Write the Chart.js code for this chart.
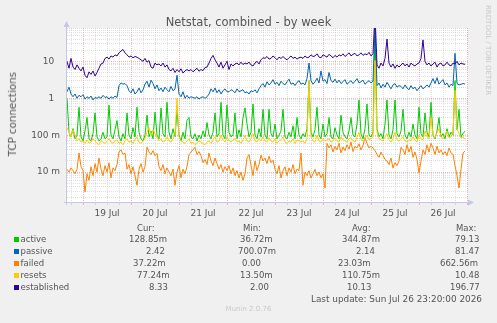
<!DOCTYPE html>
<html>
<head>
<meta charset="utf-8">
<script src="https://cdn.jsdelivr.net/npm/chart.js@4"></script>
<style>
body { margin: 0; background: #f0f0f0; }
#wrap { position: relative; width: 497px; height: 323px; font-family: 'DejaVu Sans', sans-serif; color: #555; overflow: hidden; }
#wrap div { position: absolute; white-space: nowrap; }
canvas { position: absolute; left: 0; top: 0; }
.lg { font-size: 8.5px; line-height: 12px; }
.sq { width: 5px; height: 5px; }
</style>
</head>
<body>
<div id="wrap">
  <canvas id="chart" width="497" height="323"></canvas>
  <div style="left:0;top:14.5px;width:497px;text-align:center;font-size:11.5px;line-height:14px;">Netstat, combined - by week</div>
  <div style="left:5.5px;top:72px;font-size:10.3px;line-height:12px;writing-mode:vertical-rl;transform:rotate(180deg);">TCP connections</div>
  <div style="left:483px;top:5px;font-size:7px;line-height:9px;color:#c8c8c8;writing-mode:vertical-rl;">RRDTOOL / TOBI OETIKER</div>
</div>
<script>
// munin "netstat" plugin, week view: one sample per hour, starting 18 Jul 16:00
const seriesNames = ['active', 'passive', 'failed', 'resets', 'established'];
const seriesColors = ['#00CC00', '#0066B3', '#FF8000', '#FFCC00', '#330099'];
const startHour = 16;   // hours after 18 Jul 00:00
const stepHours = 1;

const active = [
  1.0, 0.12, 0.09, 0.15, 0.08, 0.1, 0.57, 0.09, 0.07, 0.13,
  0.3, 0.08, 0.07, 0.11, 0.4, 0.09, 0.07, 0.08, 0.12, 0.08,
  0.09, 0.65, 0.1, 0.08, 0.14, 0.25, 0.09, 0.07, 0.11, 0.08,
  0.4, 0.1, 0.08, 0.16, 0.09, 0.57, 0.12, 0.08, 0.07, 0.1,
  0.35, 0.09, 0.13, 0.08, 0.42, 0.1, 0.08, 0.54, 0.11, 0.09,
  0.78, 0.12, 0.08, 0.15, 0.09, 0.47, 0.1, 0.07, 0.12, 0.08,
  0.25, 0.3, 0.09, 0.08, 0.11, 0.07, 0.1, 0.08, 0.13, 0.09,
  0.22, 0.1, 0.08, 0.12, 0.4, 0.09, 0.11, 0.78, 0.1, 0.08,
  0.65, 0.12, 0.09, 0.1, 0.4, 0.08, 0.14, 0.09, 0.3, 0.55,
  0.2, 0.09, 0.12, 0.7, 0.1, 0.08, 0.15, 0.09, 0.5, 0.1,
  0.08, 0.5, 0.11, 0.09, 0.2, 0.08, 0.1, 0.13, 0.5, 0.09,
  0.08, 0.12, 0.09, 0.18, 0.08, 0.3, 0.1, 0.08, 0.11, 0.09,
  0.15, 3.0, 0.12, 0.09, 0.14, 0.57, 0.1, 0.08, 0.2, 0.09,
  0.11, 0.3, 0.09, 0.08, 0.16, 0.1, 0.08, 0.35, 0.12, 0.09,
  0.08, 0.13, 0.3, 0.1, 0.09, 0.2, 0.9, 0.11, 0.08, 0.15,
  0.7, 0.1, 0.09, 0.12, 79.13, 0.15, 0.09, 0.11, 0.08, 0.2,
  0.9, 0.1, 0.08, 0.14, 0.9, 0.11, 0.09, 0.13, 0.5, 0.1,
  0.08, 0.12, 0.09, 0.2, 0.1, 0.08, 0.57, 0.11, 0.09, 0.4,
  0.12, 0.09, 0.78, 0.1, 0.08, 0.13, 0.3, 0.09, 0.11, 0.08,
  0.15, 0.09, 0.12, 0.1, 3.0, 0.14, 0.5, 0.09, 0.11, 0.129
];

const passive = [
  1.5, 2.0, 1.3,
  1.1, 1.3, 1.0, 1.2, 1.1, 1.25,
  0.95, 1.1, 1.0, 1.15, 0.9, 1.05, 1.0,
  1.1, 1.0, 1.2, 1.05, 1.1, 0.95, 1.1, 1.0, 1.15, 1.05,
  2.2, 2.6, 2.4, 2.5, 2.2,
  1.6, 1.4, 1.8, 1.3, 1.5, 1.9, 1.4, 1.7,
  2.4, 2.9, 2.0, 3.1, 2.5, 1.8, 2.3,
  1.6, 1.9, 1.5, 2.0, 1.7, 1.5, 2.1, 1.6, 1.8,
  4.2,
  1.3, 1.1, 1.5, 1.0, 1.2,
  1.0, 1.1, 1.05, 1.0, 1.1, 0.95, 1.05, 1.1, 1.0, 1.1,
  1.3, 1.8, 1.5, 1.9, 1.4, 1.7, 1.3, 1.6, 1.8, 1.5,
  1.5, 1.7, 1.6, 1.4, 1.8, 1.5, 1.6, 1.7, 1.4, 1.5, 1.3, 1.6, 1.5, 1.7, 1.4, 1.8,
  2.2, 2.5, 2.0, 2.8, 2.3, 2.6, 3.2, 2.4, 2.7, 2.2, 2.9, 2.5, 2.3, 2.8, 3.3, 2.4, 2.6, 2.2, 2.7, 3.0, 2.4, 2.6, 2.3, 3.4,
  9.0,
  3.0, 2.4, 2.8, 3.5, 2.6, 5.5, 2.9, 3.2, 2.5, 5.0, 3.0, 2.7, 3.3, 2.6, 3.1,
  2.5, 2.8, 3.2, 2.4, 2.7, 3.0, 2.5, 2.9, 3.4, 2.6, 2.8, 3.1, 2.4, 2.7, 3.0, 2.6, 2.9,
  81.47,
  2.2, 2.6, 1.9, 2.4, 2.0, 2.7, 2.2, 1.8, 2.3, 2.5, 2.0, 2.2,
  2.1, 1.8, 2.3, 1.9, 1.7, 2.2, 1.8, 2.0, 1.6, 1.9,
  2.2, 1.8, 2.0,
  2.3, 2.0, 2.6, 3.4, 2.5, 3.6, 2.4, 2.8, 3.2, 2.3, 2.6, 2.0, 2.4, 2.2,
  16.5,
  2.5, 2.3, 2.4, 2.5, 2.42
];

const failed = [
  0.012, 0.010, 0.013, 0.011, 0.009, 0.012, 0.033, 0.014, 0.011,
  0.0029, 0.009, 0.006, 0.014, 0.008, 0.017, 0.010,
  0.024, 0.012, 0.008, 0.015, 0.010, 0.018, 0.007, 0.013, 0.011, 0.016,
  0.035, 0.04, 0.03, 0.033,
  0.012, 0.016, 0.009, 0.014, 0.008, 0.0044, 0.012, 0.017, 0.010, 0.014, 0.047,
  0.035, 0.03, 0.038, 0.028, 0.032,
  0.014, 0.011, 0.016, 0.009, 0.013, 0.010,
  0.008, 0.012, 0.0044, 0.010, 0.015, 0.007, 0.012, 0.009, 0.014,
  0.03, 0.035, 0.04, 0.047, 0.03, 0.036, 0.028,
  0.018, 0.022, 0.016, 0.033, 0.020, 0.015, 0.024, 0.017,
  0.012, 0.016, 0.010, 0.014, 0.011, 0.015, 0.009, 0.013,
  0.008, 0.011, 0.007, 0.010, 0.006, 0.009, 0.024,
  0.03, 0.015, 0.008, 0.02, 0.011, 0.016,
  0.029, 0.02, 0.024, 0.017, 0.027, 0.018, 0.021,
  0.012, 0.009, 0.015, 0.0069, 0.011, 0.014, 0.008, 0.013, 0.010, 0.016, 0.009, 0.012, 0.011,
  0.033, 0.0044,
  0.010, 0.008, 0.011, 0.0069, 0.009, 0.012, 0.008, 0.010, 0.007, 0.009,
  0.0037,
  0.06,
  0.045, 0.055, 0.035, 0.05, 0.04, 0.06, 0.033, 0.048, 0.038, 0.055,
  0.042, 0.065, 0.036, 0.05, 0.045, 0.058, 0.04, 0.052, 0.088, 0.06, 0.045, 0.05,
  0.045, 0.038, 0.03, 0.025, 0.035, 0.028, 0.022,
  0.02, 0.016, 0.024, 0.0128, 0.018, 0.015, 0.02,
  0.047, 0.04, 0.03, 0.055, 0.035, 0.05, 0.025,
  0.035, 0.022, 0.0094, 0.02,
  0.04, 0.03, 0.055, 0.035, 0.06, 0.045, 0.03, 0.05, 0.033,
  0.04, 0.03, 0.036, 0.028, 0.045, 0.033,
  0.03, 0.015, 0.008, 0.0037, 0.012, 0.033, 0.0372
];

const resets = [
  0.16, 0.12, 0.09, 0.14, 0.1, 0.07, 0.08, 0.065, 0.07, 0.06,
  0.075, 0.06, 0.065, 0.08, 0.07, 0.06, 0.055, 0.07, 0.065, 0.06,
  0.07, 0.08, 0.065, 0.06, 0.07, 0.075, 0.06, 0.065, 0.055, 0.07,
  0.08, 0.065, 0.07, 0.06, 0.075, 0.09, 0.065, 0.06, 0.07, 0.08,
  0.12, 0.16, 0.1, 0.14, 0.11, 0.09, 0.07, 0.08, 0.065, 0.07,
  0.09, 0.07, 0.065, 0.08, 0.1, 1.0, 0.09, 0.07, 0.065, 0.06,
  0.07, 0.08, 0.06, 0.065, 0.055, 0.06, 0.07, 0.065, 0.06, 0.055,
  0.065, 0.07, 0.06, 0.075, 0.09, 0.065, 0.07, 0.1, 0.075, 0.065,
  0.09, 0.07, 0.065, 0.075, 0.08, 0.065, 0.07, 0.06, 0.075, 0.1,
  0.07, 0.065, 0.08, 0.11, 0.07, 0.065, 0.08, 0.07, 0.09, 0.07,
  0.065, 0.085, 0.07, 0.065, 0.08, 0.06, 0.07, 0.075, 0.09, 0.065,
  0.06, 0.07, 0.065, 0.08, 0.06, 0.075, 0.07, 0.065, 0.07, 0.06,
  0.08, 3.0, 0.09, 0.07, 0.065, 0.1, 0.07, 0.065, 0.08, 0.07,
  0.075, 0.08, 0.065, 0.07, 0.085, 0.07, 0.065, 0.09, 0.075, 0.07,
  0.065, 0.08, 0.085, 0.07, 0.065, 0.09, 0.12, 0.075, 0.07, 0.08,
  0.1, 0.075, 0.08, 0.09, 10.48, 0.12, 0.08, 0.075, 0.07, 0.09,
  0.11, 0.075, 0.065, 0.08, 0.12, 0.075, 0.07, 0.08, 0.09, 0.07,
  0.065, 0.075, 0.07, 0.09, 0.075, 0.065, 0.1, 0.08, 0.075, 0.13,
  0.09, 0.08, 0.3, 0.1, 0.085, 0.12, 0.15, 0.09, 0.08, 0.1,
  0.13, 0.085, 0.09, 0.12, 1.64, 0.15, 0.11, 0.085, 0.09, 0.0772
];

const established = [
  10, 6.5, 12,
  7, 6, 8, 6.5, 5.5, 7,
  4.2, 3.6, 5.2, 4.4, 5.5, 4.0, 5.0,
  6.5, 8.5, 9,
  12, 13, 11.5, 14, 13, 15, 14,
  17, 19, 21, 17,
  15, 13, 14, 12.5, 13.5, 13, 12,
  11, 10, 12, 9.5, 10.5,
  7, 6.5, 9, 8,
  8.5, 7.5, 9, 7, 8,
  6, 5.5, 6.5, 5, 6, 5.2, 6.3, 4.8, 5.5, 6,
  5.5, 6, 5.2, 5.8, 6.5, 5.4, 6, 5.6, 6.8, 7,
  9, 12, 14.5, 11, 9,
  7, 9.5, 6.5, 8, 10, 6, 8.5, 7.5,
  8.5, 9, 8, 9.5, 8.2, 9, 8.5, 9.5,
  8, 7.5, 9, 10, 8.5,
  11, 12.5, 12, 13.5, 11.5, 12, 14, 12.5, 11, 13, 12, 13.5, 12, 11, 12.5, 14, 12, 13, 11.5, 12.5, 13, 12, 14, 12.5,
  13, 15, 13.5, 14, 16, 13, 12.5, 15, 14, 13, 15.5, 14, 12.5, 14.5, 13, 15,
  14, 16, 13.5, 15, 17, 14, 15.5, 16.5, 14, 15, 17, 14.5, 16, 15, 17.5, 14, 16,
  196.77,
  8, 6.5, 9, 7.5, 12, 40, 9, 7, 8.5, 6.5, 8, 7,
  8, 9, 7.5, 8.5, 7, 9, 8, 7.5, 8.5, 9,
  12, 38, 10,
  8, 9, 7.5, 8.5, 9.5, 7, 8.5, 9, 7.5, 8, 9.5, 8, 7.5, 9, 8.5, 10, 8, 9, 8.5, 8.33
];

const dayLabels = ['19 Jul', '20 Jul', '21 Jul', '22 Jul', '23 Jul', '24 Jul', '25 Jul', '26 Jul'];
const yTickValues = [0.01, 0.1, 1, 10];
const yTickLabels = ['10 m', '100 m', '1  ', '10  '];

// legend table (Cur / Min / Avg / Max)
const curText = ['128.85m', '2.42', '37.22m', '77.24m', '8.33'];
const minText = ['36.72m', '700.07m', '0.00', '13.50m', '2.00'];
const avgText = ['344.87m', '2.14', '23.03m', '110.75m', '10.13'];
const maxText = ['79.13', '81.47', '662.56m', '10.48', '196.77'];
const lastUpdate = 'Last update: Sun Jul 26 23:20:00 2026';
const version = 'Munin 2.0.76';

const allSeries = [active, passive, failed, resets, established];

const majorGrid = 'rgba(230, 120, 120, 0.55)';
const minorGrid = 'rgba(175, 175, 175, 0.4)';
const axisColor = '#c4c8e6';

function toPoints(arr) {
  return arr.map((v, i) => ({ x: startHour + i * stepHours, y: v }));
}

function isDecade(v) {
  const l = Math.log10(v);
  return Math.abs(l - Math.round(l)) < 1e-9;
}

const plotBg = {
  id: 'plotBg',
  beforeDraw(chart) {
    const { ctx, chartArea: a } = chart;
    ctx.save();
    ctx.fillStyle = '#ffffff';
    ctx.fillRect(a.left, a.top, a.right - a.left, a.bottom - a.top);
    ctx.restore();
  }
};

// rrdtool style axes with arrow heads
const arrowAxes = {
  id: 'arrowAxes',
  afterDraw(chart) {
    const { ctx, chartArea: a } = chart;
    const x0 = a.left - 0.5, y0 = a.bottom + 0.5;
    ctx.save();
    ctx.strokeStyle = axisColor;
    ctx.fillStyle = axisColor;
    ctx.lineWidth = 1;
    ctx.beginPath();
    ctx.moveTo(x0, a.bottom + 3);
    ctx.lineTo(x0, a.top - 2);
    ctx.moveTo(a.left - 3, y0);
    ctx.lineTo(a.right + 1, y0);
    ctx.stroke();
    ctx.beginPath();
    ctx.moveTo(x0, a.top - 7);
    ctx.lineTo(x0 - 3, a.top - 1);
    ctx.lineTo(x0 + 3, a.top - 1);
    ctx.closePath();
    ctx.fill();
    ctx.beginPath();
    ctx.moveTo(a.right + 6, y0);
    ctx.lineTo(a.right, y0 - 3);
    ctx.lineTo(a.right, y0 + 3);
    ctx.closePath();
    ctx.fill();
    ctx.restore();
  }
};

const ctx = document.getElementById('chart').getContext('2d');
const myChart = new Chart(ctx, {
  type: 'line',
  data: {
    datasets: seriesNames.map((name, k) => ({
      label: name,
      data: toPoints(allSeries[k]),
      borderColor: seriesColors[k],
      backgroundColor: seriesColors[k],
      borderWidth: 1,
      pointRadius: 0,
      tension: 0,
      fill: false,
      order: seriesNames.length - k
    }))
  },
  options: {
    responsive: false,
    animation: false,
    layout: { padding: { left: 0, top: 28, right: 29, bottom: 101 } },
    plugins: {
      legend: { display: false },
      title: { display: false },
      tooltip: { enabled: false }
    },
    scales: {
      x: {
        type: 'linear',
        min: 16,
        max: 216.5,
        afterBuildTicks: scale => {
          const t = [];
          for (let h = 18; h <= 216; h += 6) t.push({ value: h });
          scale.ticks = t;
        },
        afterFit: scale => { scale.height = 20; },
        ticks: {
          autoSkip: false,
          maxRotation: 0,
          padding: 3,
          color: '#555',
          font: { family: 'DejaVu Sans', size: 9 },
          callback: v => (v % 24 === 12) ? dayLabels[(v - 36) / 24] : ''
        },
        grid: {
          color: c => (c.tick && c.tick.value % 24 === 0) ? majorGrid : minorGrid,
          lineWidth: 1,
          tickLength: 3
        },
        border: { display: false, dash: [1, 1] }
      },
      y: {
        type: 'logarithmic',
        min: 0.00155,
        max: 80,
        afterBuildTicks: scale => {
          const t = [];
          for (let d = -3; d <= 1; d++) {
            for (let m = 1; m <= 9; m++) {
              const v = m * Math.pow(10, d);
              if (v >= scale.min && v <= scale.max) t.push({ value: v });
            }
          }
          scale.ticks = t;
        },
        afterFit: scale => { scale.width = 67; },
        ticks: {
          autoSkip: false,
          padding: 7,
          color: '#555',
          font: { family: 'DejaVu Sans', size: 9 },
          callback: v => {
            const k = yTickValues.findIndex(t => Math.abs(t - v) / t < 1e-6);
            return k < 0 ? '' : yTickLabels[k];
          }
        },
        grid: {
          color: c => (c.tick && isDecade(c.tick.value)) ? majorGrid : minorGrid,
          lineWidth: 1,
          drawTicks: false
        },
        border: { display: false, dash: [1, 1] }
      }
    }
  },
  plugins: [plotBg, arrowAxes]
});

// legend below the graph
const wrap = document.getElementById('wrap');
function addText(txt, x, y, cls, style) {
  const d = document.createElement('div');
  d.textContent = txt;
  d.className = cls || '';
  d.style.left = x + 'px';
  d.style.top = y + 'px';
  if (style) Object.assign(d.style, style);
  wrap.appendChild(d);
  return d;
}

const headerTop = 221.5;
const rowTops = [233, 245, 257, 269, 281];
const headerLeft = [137, 243, 352, 456];
const statLeft = [
  [129, 240, 342, 455],
  [146, 238, 356, 455],
  [133, 242, 338, 440],
  [137, 240, 342, 455],
  [149, 250, 347, 450]
];

['Cur:', 'Min:', 'Avg:', 'Max:'].forEach((h, j) => addText(h, headerLeft[j], headerTop, 'lg'));
seriesNames.forEach((name, k) => {
  const sq = addText('', 14, rowTops[k] + 3.5, 'sq');
  sq.style.background = seriesColors[k];
  addText(name, 20.5, rowTops[k], 'lg');
  [curText, minText, avgText, maxText].forEach((col, j) => addText(col[k], statLeft[k][j], rowTops[k], 'lg'));
});
addText(lastUpdate, 0, 293, 'lg', { left: 'auto', right: '15px', fontSize: '8.9px' });
addText(version, 0, 305, '', { left: '0', width: '497px', textAlign: 'center', fontSize: '7px', lineHeight: '9px', color: '#c8c8c8' });
</script>
</body>
</html>
